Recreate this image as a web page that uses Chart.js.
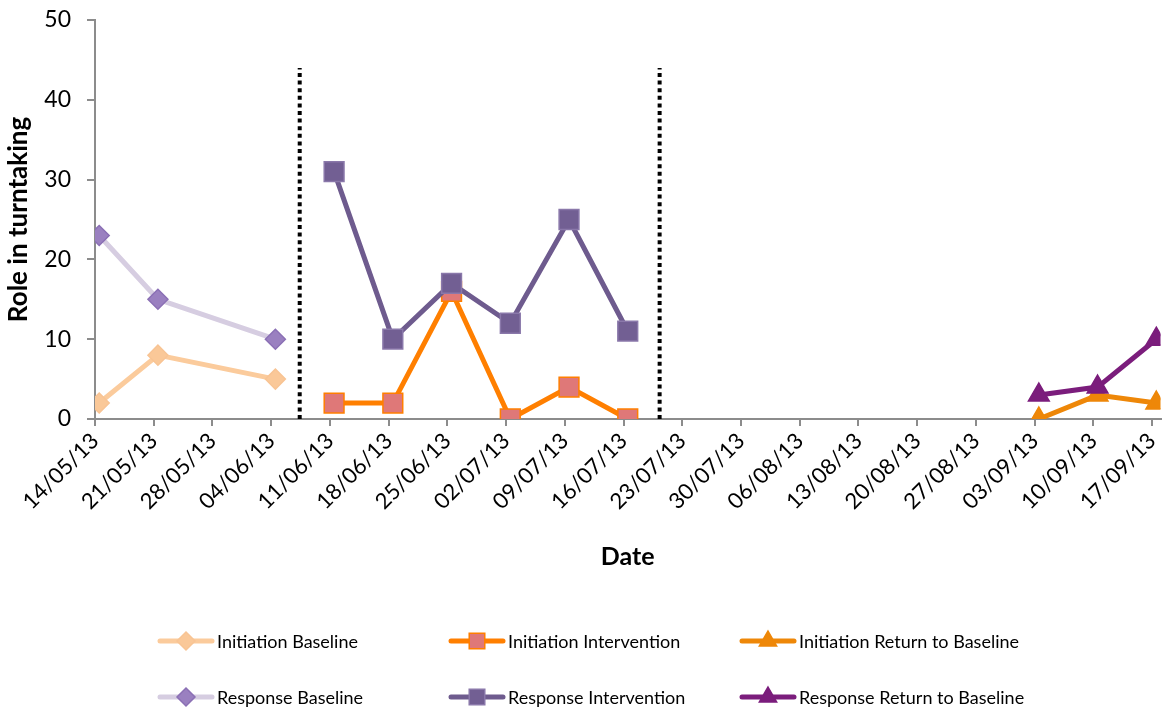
<!DOCTYPE html>
<html><head><meta charset="utf-8">
<script src="https://cdn.jsdelivr.net/npm/chart.js@4.4.1/dist/chart.umd.min.js"></script>
<style>html,body{margin:0;padding:0;background:#fff}</style>
</head><body>
<canvas id="c" width="1176" height="711" style="display:block;width:1176px;height:711px"></canvas>
<script>
// ---- data ----
const tickLabels = ['14/05/13','21/05/13','28/05/13','04/06/13','11/06/13','18/06/13','25/06/13','02/07/13','09/07/13','16/07/13','23/07/13','30/07/13','06/08/13','13/08/13','20/08/13','27/08/13','03/09/13','10/09/13','17/09/13'];
const baselineDates = ['14/05/13','21/05/13','04/06/13'];
const interventionDates = ['11/06/13','18/06/13','25/06/13','02/07/13','09/07/13','16/07/13'];
const returnDates = ['03/09/13','10/09/13','17/09/13'];
const initiationBaseline = [2, 8, 5];
const responseBaseline = [23, 15, 10];
const initiationIntervention = [2, 2, 16, 0, 4, 0];
const responseIntervention = [31, 10, 17, 12, 25, 11];
const initiationReturn = [0, 3, 2];
const responseReturn = [3, 4, 10];
const phaseChangeDays = [24.4, 67.3];   // days after 14/05/13
const phaseLineTop = 44;

const FONT = 'Lato, "Open Sans", sans-serif';
function dayIndex(s){const [d,m,y]=s.split('/').map(Number);return (Date.UTC(2000+y,m-1,d)-Date.UTC(2013,4,14))/864e5;}
const pts = (dates, vals) => dates.map((d,i)=>({x: dayIndex(d)+0.5, y: vals[i]}));

const series = [
 {label:'Initiation Baseline', data:pts(baselineDates,initiationBaseline), borderColor:'#FBCB9C', backgroundColor:'#FAC898', pointBorderColor:'#F8C494', pointStyle:'rectRot', pointRadius:10, order:5, legend:[0,0]},
 {label:'Initiation Intervention', data:pts(interventionDates,initiationIntervention), borderColor:'#FF7F00', backgroundColor:'#DF7878', pointBorderColor:'#FF7F00', pointStyle:'rect', pointRadius:14, order:4, legend:[1,0]},
 {label:'Initiation Return to Baseline', data:pts(returnDates,initiationReturn), borderColor:'#EE8708', backgroundColor:'#EE8708', pointBorderColor:'#EE8708', pointStyle:'triangle', pointRadius:12, order:3, legend:[2,0]},
 {label:'Response Baseline', data:pts(baselineDates,responseBaseline), borderColor:'#D6CDE1', backgroundColor:'#9A80C0', pointBorderColor:'#8B70B5', pointStyle:'rectRot', pointRadius:10, order:2, legend:[0,1]},
 {label:'Response Intervention', data:pts(interventionDates,responseIntervention), borderColor:'#6E5B8E', backgroundColor:'#725F93', pointBorderColor:'#8A78AA', pointStyle:'rect', pointRadius:14, order:1, legend:[1,1]},
 {label:'Response Return to Baseline', data:pts(returnDates,responseReturn), borderColor:'#7B1D7C', backgroundColor:'#7B1D7C', pointBorderColor:'#7B1D7C', pointStyle:'triangle', pointRadius:12, order:0, legend:[2,1]}
];

const datasets = series.map(s => ({
  label:s.label, data:s.data, borderColor:s.borderColor, backgroundColor:s.backgroundColor,
  pointBackgroundColor:s.backgroundColor, pointBorderColor:s.pointBorderColor, pointBorderWidth:1.5,
  pointStyle:s.pointStyle, pointRadius:s.pointRadius, pointHoverRadius:s.pointRadius,
  borderWidth:5, tension:0, fill:false, order:s.order, _legend:s.legend
}));
phaseChangeDays.forEach(d => datasets.push({
  label:'phase', data:[{x:d,y:0},{x:d,y:phaseLineTop}], borderColor:'#000', borderWidth:4,
  borderDash:[4,3.6], pointRadius:0, fill:false, order:10, borderCapStyle:'butt'
}));

function drawMarker(ctx, style, x, y, r, fill, stroke){
  ctx.save(); ctx.beginPath();
  if(style==='rect'){const s=r*Math.SQRT1_2; ctx.rect(x-s,y-s,2*s,2*s);}
  else if(style==='rectRot'){ctx.moveTo(x,y-r);ctx.lineTo(x+r,y);ctx.lineTo(x,y+r);ctx.lineTo(x-r,y);ctx.closePath();}
  else if(style==='triangle'){ctx.moveTo(x,y-r);ctx.lineTo(x+r*0.866,y+r*0.5);ctx.lineTo(x-r*0.866,y+r*0.5);ctx.closePath();}
  ctx.fillStyle=fill; ctx.fill(); ctx.lineWidth=1.5; ctx.strokeStyle=stroke; ctx.stroke(); ctx.restore();
}

const legendPlugin = {
  id:'customLegend',
  afterDraw(chart){
    const ctx = chart.ctx;
    ctx.save();
    ctx.font = '18px ' + FONT; ctx.textBaseline='middle'; ctx.textAlign='left'; ctx.fillStyle='#000';
    series.forEach(s => {
      const [col,row] = s.legend;
      const x0 = 158 + col*291, y = 641 + row*56;
      ctx.beginPath(); ctx.lineCap='round'; ctx.lineWidth=5; ctx.strokeStyle=s.borderColor;
      ctx.moveTo(x0+2,y); ctx.lineTo(x0+54,y); ctx.stroke();
      drawMarker(ctx, s.pointStyle, x0+28, y, s.pointStyle==='rect'?11:(s.pointStyle==='triangle'?10:9), s.backgroundColor, s.pointBorderColor);
      ctx.fillStyle='#000';
      ctx.fillText(s.label, x0+59, y+1);
    });
    ctx.restore();
  }
};

const grey = '#8C8C8C';
new Chart(document.getElementById('c'), {
  type:'line',
  data:{datasets},
  plugins:[legendPlugin],
  options:{
    responsive:false, animation:false, devicePixelRatio:1,
    layout:{padding:{top:20,right:15,bottom:132,left:0}},
    plugins:{legend:{display:false}, tooltip:{enabled:false}},
    scales:{
      x:{type:'linear', min:0, max:127,
        afterBuildTicks(sc){sc.ticks = tickLabels.map((_,i)=>({value:i*7}));},
        afterFit(sc){sc.height=160; sc.paddingLeft=0; sc.paddingRight=0;},
        grid:{display:true, drawOnChartArea:false, drawTicks:true, tickLength:7, color:grey, lineWidth:2},
        border:{color:grey, width:2},
        ticks:{autoSkip:false, maxRotation:45, minRotation:45, color:'#000', padding:2,
          font:{family:FONT, size:22}, callback:(v)=>tickLabels[Math.round(v/7)]},
        title:{display:true, text:'Date', color:'#000', font:{family:FONT, size:25, weight:'bold'}, padding:{top:4,bottom:7}}
      },
      y:{min:0, max:50,
        afterFit(sc){sc.width=95; sc.paddingTop=0;},
        grid:{display:true, drawOnChartArea:false, drawTicks:true, tickLength:8, color:grey, lineWidth:2},
        border:{color:grey, width:2},
        ticks:{stepSize:10, color:'#000', padding:16, font:{family:FONT, size:23}},
        title:{display:true, text:'Role in turntaking', color:'#000', font:{family:FONT, size:26, weight:'bold'}, padding:{top:3,bottom:4}}
      }
    }
  }
});
</script>
</body></html>
